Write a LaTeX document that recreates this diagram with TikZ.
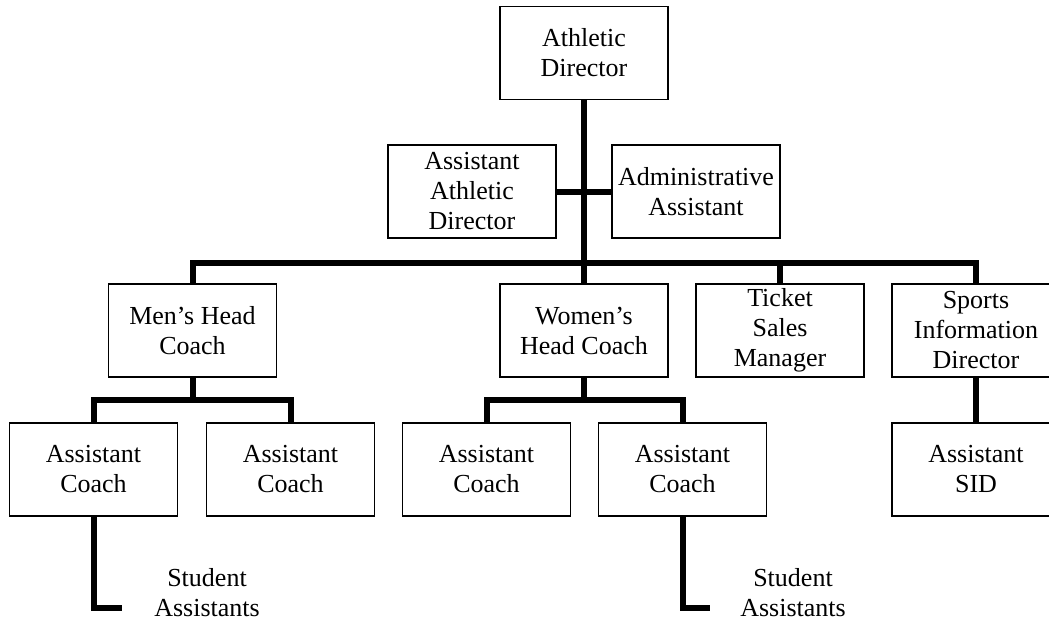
\documentclass[tikz,border=0pt]{standalone}
\usepackage{fontspec}
\setmainfont{Liberation Serif}
\begin{document}
\begin{tikzpicture}[x=0.75pt,y=-0.75pt]
      \useasboundingbox (0,0) rectangle (1049,622);

      \begin{scope}[every node/.style={rectangle, draw, line width=0.9pt, minimum width=126pt, minimum height=69.75pt, inner sep=1pt, align=center, font=\fontsize{19.5}{22.5}\selectfont}]
        \node (1)  at (584,53)    {Athletic\\Director};
        \node (2)  at (472,191.5) {Assistant\\Athletic\\Director};
        \node (3)  at (696,191.5) {Administrative\\Assistant};
        \node (4)  at (192.5,330.5) {Men’s Head\\Coach};
        \node (5)  at (584,330.5) {Women’s\\Head Coach};
        \node (6)  at (780,330.5) {Ticket\\Sales\\Manager};
        \node (7)  at (976,330.5) {Sports\\Information\\Director};
        \node (8)  at (93.5,469.5) {Assistant\\Coach};
        \node (9)  at (290.5,469.5) {Assistant\\Coach};
        \node (10) at (486.5,469.5) {Assistant\\Coach};
        \node (11) at (682.5,469.5) {Assistant\\Coach};
        \node (12) at (976,469.5) {Assistant\\SID};
      \end{scope}

      \begin{scope}[every node/.style={align=center, font=\fontsize{19.5}{22.5}\selectfont}]
        \node (13) at (207,593) {Student\\Assistants};
        \node (14) at (793,593) {Student\\Assistants};
      \end{scope}

      \coordinate (bus)  at (584,263);
      \coordinate (mbus) at (192.5,400);
      \coordinate (wbus) at (584,400);
      \coordinate (s1)   at (122,608);
      \coordinate (s2)   at (710,608);

      \begin{scope}[line width=4.5pt, line join=miter]
        \draw (1)  -- (5);
        \draw (2)  -- (3);
        \draw (4.north) |- (bus) -| (7.north);
        \draw (6.north) -- (6.north |- bus);
        \draw (4)  -- (mbus);
        \draw (8.north) |- (mbus) -| (9.north);
        \draw (5)  -- (wbus);
        \draw (10.north) |- (wbus) -| (11.north);
        \draw (7)  -- (12);
        \draw (8.south) |- (s1);
        \draw (11.south) |- (s2);
      \end{scope}

    \end{tikzpicture}
\end{document}
